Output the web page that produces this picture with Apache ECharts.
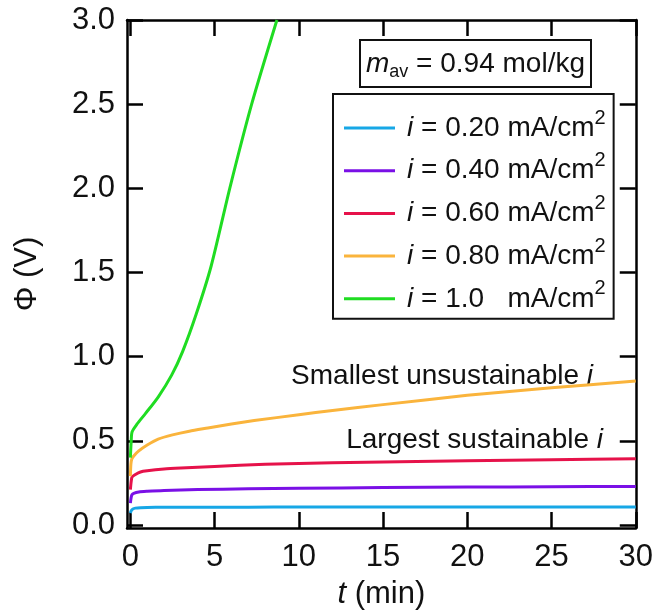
<!DOCTYPE html>
<html>
<head>
<meta charset="utf-8">
<script src="https://cdn.jsdelivr.net/npm/echarts@6/dist/echarts.min.js"></script>
<style>
  html, body { margin: 0; padding: 0; background: #fff; }
  #chart { width: 656px; height: 615px; }
</style>
</head>
<body>
<div id="chart"></div>
<script>
// Cell potential Φ versus time t at several applied current densities i
const currentLabels = ['0.20', '0.40', '0.60', '0.80', '1.0'];
const seriesColors = ['#17a7e6', '#7a10e6', '#e6124a', '#fab43c', '#1fdc22'];

const tBlue   = [0, 0.05, 0.15, 0.3, 0.6, 1, 2, 4, 7, 10, 15, 20, 25, 30];
const phiBlue = [0.07, 0.085, 0.095, 0.1, 0.103, 0.104, 0.105, 0.106, 0.106, 0.107, 0.107, 0.107, 0.107, 0.107];

const tPurple   = [0, 0.05, 0.1, 0.2, 0.5, 1, 2, 4, 7, 10, 15, 20, 25, 30];
const phiPurple = [0.13, 0.165, 0.18, 0.188, 0.196, 0.2, 0.205, 0.21, 0.215, 0.218, 0.222, 0.225, 0.227, 0.229];

const tRed   = [0, 0.05, 0.1, 0.3, 0.6, 1, 2, 3, 5, 8, 12, 16, 20, 25, 30];
const phiRed = [0.21, 0.26, 0.285, 0.3, 0.315, 0.322, 0.332, 0.338, 0.348, 0.36, 0.37, 0.376, 0.382, 0.388, 0.394];

const tOrange   = [0, 0.03, 0.08, 0.2, 0.5, 1, 1.65, 2.5, 3.5, 4.6, 6, 7.35, 10, 12, 15, 20, 25, 30];
const phiOrange = [0.29, 0.36, 0.39, 0.41, 0.44, 0.475, 0.51, 0.535, 0.557, 0.576, 0.6, 0.62, 0.655, 0.68, 0.715, 0.77, 0.815, 0.855];

const tGreen   = [0, 0.05, 0.1, 0.4, 0.88, 1.65, 2.45, 3.1, 3.9, 4.8, 5.9, 7.2, 8.7];
const phiGreen = [0.40, 0.50, 0.553, 0.60, 0.66, 0.76, 0.89, 1.03, 1.25, 1.54, 2.0, 2.5, 3.0];

const xTicks = [0, 5, 10, 15, 20, 25, 30];
const yTicks = [0, 0.5, 1.0, 1.5, 2.0, 2.5, 3.0];

const FONT = '"Liberation Sans", Arial, Helvetica, sans-serif';
const INK = '#111';

function zip(ts, vs) { return ts.map((t, k) => [t, vs[k]]); }
const curves = [
  zip(tBlue, phiBlue),
  zip(tPurple, phiPurple),
  zip(tRed, phiRed),
  zip(tOrange, phiOrange),
  zip(tGreen, phiGreen)
];

const frameLine = { show: true, onZero: false, lineStyle: { color: '#000', width: 2.5 } };
function tickStyle(values) {
  return { show: true, inside: true, length: 16, customValues: values, lineStyle: { color: '#000', width: 2.5 } };
}

const chart = echarts.init(document.getElementById('chart'), null, { renderer: 'canvas' });

chart.setOption({
  animation: false,
  backgroundColor: '#fff',
  textStyle: { fontFamily: FONT },
  grid: { left: 127, right: 16, top: 20, bottom: 80, containLabel: false },
  title: {
    text: '{it|m}{sub|av} = 0.94 mol/kg',
    left: 360, top: 40,
    padding: [7, 6, 6, 6],
    borderColor: '#111', borderWidth: 2,
    textStyle: {
      fontFamily: FONT, fontSize: 28, fontWeight: 'normal', color: INK, lineHeight: 34,
      rich: {
        it: { fontFamily: FONT, fontSize: 28, fontStyle: 'italic', color: INK, lineHeight: 34 },
        sub: { fontFamily: FONT, fontSize: 18, color: INK, verticalAlign: 'bottom', lineHeight: 18 }
      }
    }
  },
  legend: {
    orient: 'vertical',
    left: 333, top: 94,
    padding: [14, 8, 0, 11],
    itemGap: 2.7,
    itemWidth: 51, itemHeight: 3,
    icon: 'rect',
    borderColor: '#111', borderWidth: 2,
    data: currentLabels,
    formatter: name => '{it|i} = ' + (name.length < 4 ? name + '  ' : name) + ' mA/cm{sup|2}',
    textStyle: {
      fontFamily: FONT, fontSize: 28, color: INK, lineHeight: 40,
      rich: {
        it: { fontFamily: FONT, fontSize: 28, fontStyle: 'italic', color: INK, padding: [0, 0, 0, 7] },
        sup: { fontFamily: FONT, fontSize: 20, color: INK, verticalAlign: 'top', lineHeight: 10 }
      }
    }
  },
  xAxis: [
    {
      type: 'value', min: -0.2, max: 30, position: 'bottom',
      axisLine: frameLine, axisTick: tickStyle(xTicks), splitLine: { show: false },
      axisLabel: { customValues: xTicks, fontFamily: FONT, fontSize: 31, color: INK, margin: 14 },
      name: '{it|t} (min)', nameLocation: 'middle', nameGap: 51,
      nameTextStyle: {
        fontFamily: FONT, fontSize: 31, color: INK,
        rich: { it: { fontFamily: FONT, fontSize: 31, fontStyle: 'italic', color: INK } }
      }
    },
    {
      type: 'value', min: -0.2, max: 30, position: 'top',
      axisLine: frameLine, axisTick: tickStyle(xTicks), splitLine: { show: false },
      axisLabel: { show: false }
    }
  ],
  yAxis: [
    {
      type: 'value', min: -0.018, max: 3.0, position: 'left',
      axisLine: frameLine, axisTick: tickStyle(yTicks), splitLine: { show: false },
      axisLabel: {
        customValues: yTicks, fontFamily: FONT, fontSize: 31, color: INK, margin: 12,
        formatter: v => v.toFixed(1)
      },
      name: 'Φ (V)', nameLocation: 'middle', nameGap: 84,
      nameTextStyle: { fontFamily: FONT, fontSize: 31, color: INK }
    },
    {
      type: 'value', min: -0.018, max: 3.0, position: 'right',
      axisLine: frameLine, axisTick: tickStyle(yTicks), splitLine: { show: false },
      axisLabel: { show: false }
    }
  ],
  graphic: [
    {
      type: 'text',
      style: {
        text: 'Smallest unsustainable {it|i}',
        x: 593, y: 376, align: 'right', verticalAlign: 'middle',
        fontFamily: FONT, fontSize: 28, fill: INK,
        rich: { it: { fontFamily: FONT, fontSize: 28, fontStyle: 'italic', fill: INK } }
      }
    },
    {
      type: 'text',
      style: {
        text: 'Largest sustainable {it|i}',
        x: 603, y: 440, align: 'right', verticalAlign: 'middle',
        fontFamily: FONT, fontSize: 28, fill: INK,
        rich: { it: { fontFamily: FONT, fontSize: 28, fontStyle: 'italic', fill: INK } }
      }
    }
  ],
  series: curves.map((data, k) => ({
    type: 'line',
    name: currentLabels[k],
    xAxisIndex: 0, yAxisIndex: 0,
    data: data,
    smooth: 0.25,
    symbol: 'none',
    color: seriesColors[k],
    lineStyle: { color: seriesColors[k], width: 3 },
    z: 3
  }))
});
</script>
</body>
</html>
